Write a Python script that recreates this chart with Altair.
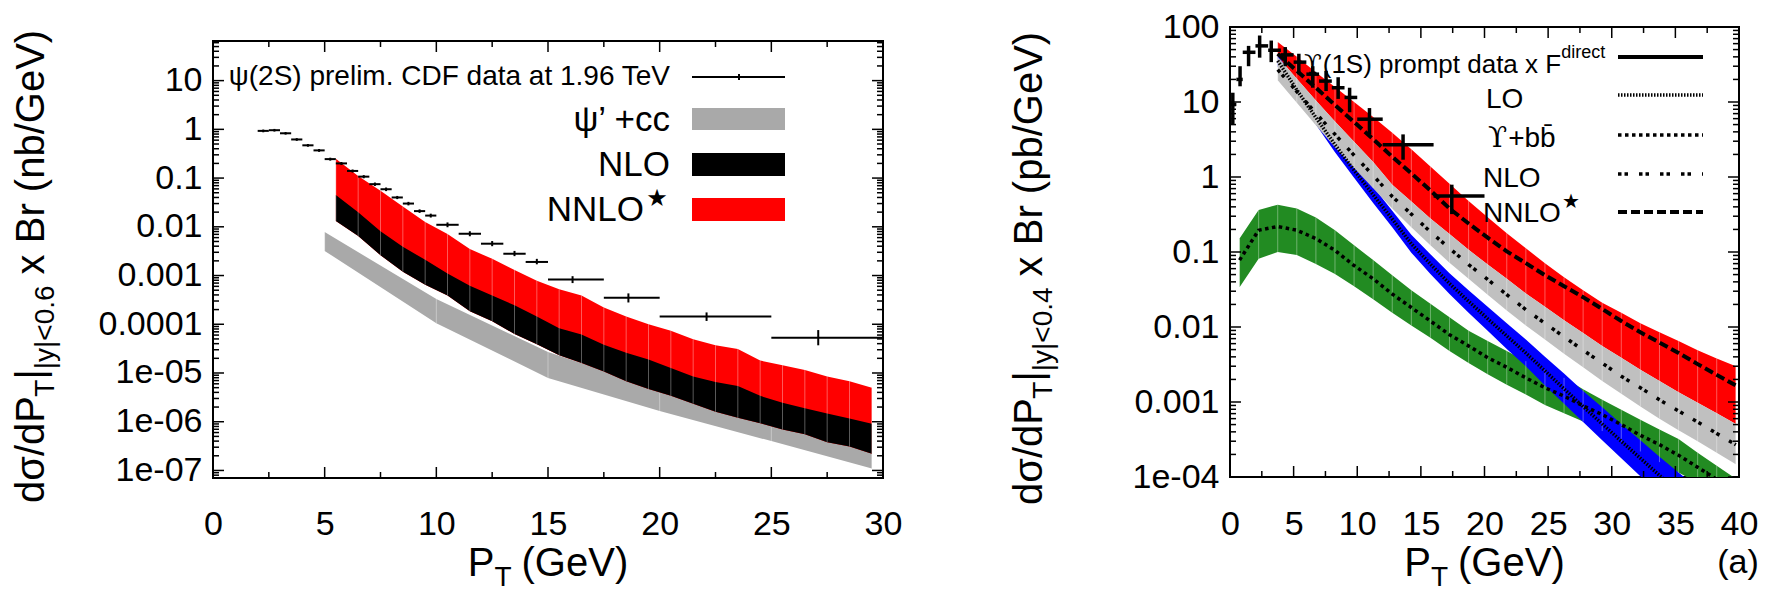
import math
import altair as alt
import pandas as pd

FONT = "Liberation Sans, Arial, Helvetica, DejaVu Sans, sans-serif"
SERIF = "DejaVu Serif, Liberation Serif, serif"

# ---------------- left panel: psi(2S), |y| < 0.6, Tevatron ----------------
cdf_pt = [2.25, 2.75, 3.25, 3.75, 4.25, 4.75, 5.25, 5.75, 6.25, 6.75, 7.25, 7.75,
          8.25, 8.75, 9.25, 9.75, 10.5, 11.5, 12.5, 13.5, 14.5, 16.1, 18.6, 22.1, 27.1]
cdf_xlo = [2.0, 2.5, 3.0, 3.5, 4.0, 4.5, 5.0, 5.5, 6.0, 6.5, 7.0, 7.5,
           8.0, 8.5, 9.0, 9.5, 10, 11, 12, 13, 14, 15, 17.5, 20, 25]
cdf_xhi = [2.5, 3.0, 3.5, 4.0, 4.5, 5.0, 5.5, 6.0, 6.5, 7.0, 7.5, 8.0,
           8.5, 9.0, 9.5, 10, 11, 12, 13, 14, 15, 17.5, 20, 25, 30]
cdf_val = [0.93, 0.96, 0.83, 0.62, 0.47, 0.37, 0.245, 0.20, 0.14, 0.107, 0.075, 0.059,
           0.040, 0.030, 0.021, 0.017, 0.011, 0.0072, 0.0045, 0.0028, 0.0019, 8.3e-4,
           3.5e-4, 1.44e-4, 5.3e-5]
cdf_lo = [0.87, 0.90, 0.78, 0.58, 0.44, 0.345, 0.228, 0.186, 0.130, 0.099, 0.069, 0.054,
          0.037, 0.0275, 0.0193, 0.0155, 0.0098, 0.0064, 0.0040, 0.0025, 0.0017, 7.0e-4,
          2.8e-4, 1.17e-4, 3.7e-5]
cdf_hi = [0.99, 1.02, 0.88, 0.66, 0.50, 0.395, 0.262, 0.214, 0.150, 0.115, 0.081, 0.064,
          0.043, 0.0325, 0.0228, 0.0186, 0.0123, 0.0081, 0.0051, 0.0032, 0.0022, 9.7e-4,
          4.3e-4, 1.75e-4, 7.6e-5]

psi_pt = [5.5, 6.5, 7.5, 8.5, 9.5, 10.5, 11.5, 12.5, 13.5, 14.5, 15.5, 16.5, 17.5,
          18.5, 19.5, 20.5, 21.5, 22.5, 23.5, 24.5, 25.5, 26.5, 27.5, 28.5, 29.5]
psi_nnlo_hi = [0.25, 0.11, 0.055, 0.026, 0.0126, 0.0071, 0.0035, 0.0022, 0.0013, 7.8e-4,
               5.2e-4, 3.9e-4, 2.2e-4, 1.45e-4, 1.0e-4, 7.4e-5, 4.9e-5, 3.7e-5, 3.1e-5,
               1.8e-5, 1.45e-5, 1.15e-5, 8.5e-6, 6.8e-6, 5.0e-6]
psi_nlo_hi = [0.045, 0.020, 0.0081, 0.0039, 0.0021, 1.1e-3, 6.2e-4, 3.9e-4, 2.45e-4,
              1.45e-4, 8.3e-5, 6.2e-5, 3.8e-5, 2.6e-5, 1.9e-5, 1.26e-5, 8.5e-6, 6.5e-6,
              5.4e-6, 3.4e-6, 2.45e-6, 1.9e-6, 1.48e-6, 1.17e-6, 9.1e-7]
psi_nlo_lo = [0.0132, 0.0065, 0.0026, 0.0012, 6.5e-4, 3.9e-4, 1.86e-4, 1.15e-4, 6.3e-5,
              3.9e-5, 2.3e-5, 1.6e-5, 1.07e-5, 6.8e-6, 4.7e-6, 3.4e-6, 2.35e-6, 1.6e-6,
              1.2e-6, 9.3e-7, 6.9e-7, 5.5e-7, 3.8e-7, 3.1e-7, 2.2e-7]

cc_pt = [5, 10, 15, 20, 25, 29.5]
cc_hi = [7.8e-3, 3.3e-4, 2.7e-5, 4.7e-6, 9.3e-7, 2.4e-7]
cc_lo = [3.2e-3, 1.05e-4, 7.9e-6, 1.66e-6, 4.0e-7, 1.1e-7]

# ---------------- right panel: Upsilon(1S), |y| < 0.4 ----------------
ups_pt = [0.22, 0.79, 1.46, 2.33, 3.24, 4.34, 5.41, 6.5, 7.55, 8.5, 9.4, 10.96, 13.6, 17.43]
ups_xlo = [0, 0.5, 1, 2, 3, 4, 5, 6, 7, 8, 9, 10, 12, 16]
ups_xhi = [0.5, 1, 2, 3, 4, 5, 6, 7, 8, 9, 10, 12, 16, 20]
ups_val = [9.3, 20, 46, 56, 49, 42.5, 34, 23.5, 19, 15.5, 11.5, 5.9, 2.7, 0.56]
ups_lo = [5.0, 16.2, 30, 39, 34, 30, 23.4, 15.5, 14, 11, 7.3, 3.7, 1.7, 0.32]
ups_hi = [13.3, 30, 56, 77, 66, 54, 44, 30, 26, 21.4, 15.5, 8.3, 3.7, 0.79]

th_pt = [3.75, 5.25, 6.75, 8.25, 9.75, 11.25, 12.75, 14.25, 15.75, 17.25, 18.75, 20.25,
         21.75, 23.25, 24.75, 26.25, 27.75, 29.25, 30.75, 32.25, 33.75, 35.25, 36.75,
         38.25, 39.75]
nnlo_hi = [63, 40, 25, 15.8, 10, 6.3, 3.9, 2.35, 1.38, 0.81, 0.48, 0.29, 0.178, 0.112,
           0.071, 0.046, 0.031, 0.021, 0.0155, 0.0112, 0.0085, 0.0065, 0.0049, 0.0038, 0.0030]
nnlo_mid = [44, 26, 15.5, 9.1, 5.4, 3.2, 1.86, 1.12, 0.66, 0.38, 0.24, 0.155, 0.102,
            0.071, 0.049, 0.035, 0.025, 0.0174, 0.012, 0.0085, 0.0062, 0.0045, 0.0032,
            0.0023, 0.00166]
nlo_hi = [40, 20.4, 10.5, 5.5, 2.95, 1.58, 0.79, 0.47, 0.28, 0.174, 0.107, 0.068, 0.044,
          0.028, 0.0186, 0.0123, 0.0083, 0.0056, 0.0039, 0.0027, 0.0019, 0.00135, 0.00098,
          0.00071, 0.00051]
nlo_mid = [27, 13.8, 7.1, 3.7, 1.95, 1.05, 0.55, 0.32, 0.186, 0.112, 0.068, 0.043, 0.027,
           0.017, 0.0112, 0.0074, 0.0049, 0.0033, 0.0022, 0.00155, 0.00107, 0.00076,
           0.00054, 0.00038, 0.00027]
nlo_lo = [19.5, 9.8, 4.9, 2.5, 1.32, 0.71, 0.38, 0.214, 0.123, 0.072, 0.044, 0.027, 0.0166,
          0.0105, 0.0068, 0.0044, 0.0029, 0.0019, 0.00129, 0.00087, 0.0006, 0.00042, 0.0003,
          0.00021, 0.000148]
lo_hi = [42.7, 17.8, 7.6, 3.4, 1.55, 0.74, 0.355, 0.17, 0.093, 0.052, 0.031, 0.0186, 0.0112,
         0.0068, 0.004, 0.0024, 0.0014, 0.00085, 0.00051, 0.00031, 0.000186, 0.000115,
         7.1e-5, 4.4e-5, 2.7e-5]
lo_mid = [35.5, 14.5, 6.2, 2.7, 1.23, 0.58, 0.275, 0.129, 0.069, 0.038, 0.022, 0.0129,
          0.0076, 0.0045, 0.0026, 0.0015, 0.00087, 0.00051, 0.0003, 0.000178, 0.000105,
          6.3e-5, 3.8e-5, 2.3e-5, 1.4e-5]
lo_lo = [29.5, 11.7, 5.0, 2.14, 0.98, 0.45, 0.214, 0.098, 0.051, 0.0275, 0.0155, 0.0089,
         0.0051, 0.003, 0.00166, 0.00095, 0.00054, 0.00031, 0.000178, 0.000102, 5.9e-5,
         3.5e-5, 2.0e-5, 1.2e-5, 7.1e-6]

bb_pt = [0.75, 2.25] + th_pt
bb_hi = [0.151, 0.363, 0.427, 0.38, 0.288, 0.195, 0.123, 0.078, 0.049, 0.031, 0.0204,
         0.0135, 0.0089, 0.0065, 0.0048, 0.0035, 0.0027, 0.0021, 0.00148, 0.00107, 0.00079,
         0.00058, 0.00043, 0.00032, 0.00021, 0.000141, 9.5e-5]
bb_mid = [0.078, 0.195, 0.219, 0.195, 0.151, 0.105, 0.066, 0.044, 0.0275, 0.0182, 0.012,
          0.0079, 0.0056, 0.0039, 0.0029, 0.0021, 0.00155, 0.0012, 0.00089, 0.00068, 0.0005,
          0.00036, 0.00027, 0.000195, 0.000135, 9.3e-5, 6.5e-5]
bb_lo = [0.034, 0.081, 0.1, 0.091, 0.069, 0.051, 0.035, 0.0234, 0.0155, 0.0105, 0.0072,
         0.0048, 0.0033, 0.00234, 0.0017, 0.00126, 0.00091, 0.00071, 0.00055, 0.00041,
         0.000295, 0.000219, 0.000158, 0.000115, 8.3e-5, 6.0e-5, 4.4e-5]

# axis ranges and tick labels
left_x_range = [0, 30]
left_y_range = [7e-8, 65]
left_x_ticks = [0, 5, 10, 15, 20, 25, 30]
left_y_ticks = [1e-7, 1e-6, 1e-5, 1e-4, 1e-3, 1e-2, 0.1, 1, 10]
left_y_text = ["1e-07", "1e-06", "1e-05", "0.0001", "0.001", "0.01", "0.1", "1", "10"]
right_x_range = [0, 40]
right_y_range = [1e-4, 100]
right_x_ticks = [0, 5, 10, 15, 20, 25, 30, 35, 40]
right_y_ticks = [1e-4, 1e-3, 1e-2, 0.1, 1, 10, 100]
right_y_text = ["1e-04", "0.001", "0.01", "0.1", "1", "10", "100"]

# ---------------- helpers ----------------
one = pd.DataFrame({"k": [0]})
ARIAL = {"d": .556, "σ": .6, "/": .278, "P": .667, "T": .611, "|": .26, "y": .5, "<": .584,
         "0": .556, ".": .278, "6": .556, "4": .556, " ": .278, "x": .5,
         "B": .667, "r": .333, "(": .333, "n": .556, "b": .556, "p": .556, "G": .778,
         "e": .556, "V": .667, ")": .333, "1": .556, "S": .667, "o": .556,
         "m": .833, "t": .278, "a": .556, "F": .611, "N": .722, "L": .556, "O": .778}


def tw(s, size):
    return size * sum(ARIAL.get(c, 0.556) for c in s)


def text(t, x, y, size, align="left", baseline="middle", angle=0, font=FONT):
    return alt.Chart(one).mark_text(
        text=t, align=align, baseline=baseline, angle=angle, fontSize=size,
        font=font, color="black").encode(x=alt.value(x), y=alt.value(y))


def x_title(cx, base):
    big, small = 40, 28
    w = tw("P", big) + tw("T", small) + 10 + tw("(GeV)", big)
    x0 = cx - w / 2
    x1 = x0 + tw("P", big)
    x2 = x1 + tw("T", small) + 10
    return [text("P", x0, base, big, baseline="alphabetic"),
            text("T", x1, base + 10, small, baseline="alphabetic"),
            text("(GeV)", x2, base, big, baseline="alphabetic")]


def y_title(parts, x0, y0):
    out, y = [], y0
    for t, size, dx, gap in parts:
        y -= gap
        out.append(text(t, x0 + dx, y, size, baseline="alphabetic", angle=270))
        y -= tw(t, size)
    return out


def rule_px(x1, x2, y, width=2, dash=None, color="black"):
    kw = dict(color=color, strokeWidth=width)
    if dash:
        kw["strokeDash"] = dash
    return alt.Chart(one).mark_rule(**kw).encode(x=alt.value(x1), x2=alt.value(x2), y=alt.value(y))


def vrule_px(x, y1, y2, width=2):
    return alt.Chart(one).mark_rule(color="black", strokeWidth=width).encode(
        x=alt.value(x), y=alt.value(y1), y2=alt.value(y2))


def rect_px(x1, x2, y1, y2, color):
    return alt.Chart(one).mark_rect(color=color).encode(
        x=alt.value(x1), x2=alt.value(x2), y=alt.value(y1), y2=alt.value(y2))


def label_expr(vals, texts):
    s = ""
    for v, t in zip(vals, texts):
        s += f"round(log(datum.value)/LN10) == {round(math.log10(v))} ? '{t}' : "
    return s + "''"


def minor_log(lo, hi):
    out = []
    for k in range(int(math.floor(math.log10(lo))), int(math.ceil(math.log10(hi))) + 1):
        for m in range(2, 10):
            v = m * 10.0 ** k
            if lo <= v <= hi:
                out.append(v)
    return out


def panel(w, h, top, xdom, ydom, xticks, yticks, ytext, xpad, layers_fn):
    """A framed log-y panel. The frame spans y = top .. h inside the view."""
    frame_h = h - top
    per_dec = frame_h / (math.log10(ydom[1]) - math.log10(ydom[0]))
    view_top = 10 ** (math.log10(ydom[1]) + top / per_dec)
    xs = alt.Scale(domain=xdom, nice=False, zero=False)
    ys = alt.Scale(type="log", domain=[ydom[0], view_top], nice=False)
    xax = alt.Axis(values=xticks, title=None, ticks=False, domain=False, grid=False,
                   labelFont=FONT, labelFontSize=34, labelColor="black", labelPadding=xpad,
                   labelFlush=False, labelOverlap=False, format="d")
    yax = alt.Axis(values=yticks, title=None, ticks=False, domain=False, grid=False,
                   labelFont=FONT, labelFontSize=34, labelColor="black", labelPadding=11,
                   labelFlush=False, labelOverlap=False, labelBound=False,
                   labelExpr=label_expr(yticks, ytext))

    def X(f):
        return alt.X(f"{f}:Q", scale=xs, axis=xax)

    def Y(f):
        return alt.Y(f"{f}:Q", scale=ys, axis=yax)

    layers = layers_fn(X, Y)

    # inward ticks on all four sides
    x_minor = [v + (xticks[1] - xticks[0]) / 2 for v in xticks[:-1]]
    y_minor = minor_log(ydom[0], ydom[1])
    for vals, ln in ((xticks, 11), (x_minor, 6)):
        base = alt.Chart(pd.DataFrame({"v": vals})).mark_rule(color="black", strokeWidth=1.5)
        layers.append(base.encode(x=X("v"), y=alt.value(h - ln), y2=alt.value(h)))
        layers.append(base.encode(x=X("v"), y=alt.value(top), y2=alt.value(top + ln)))
    for vals, ln in ((yticks, 11), (y_minor, 6)):
        base = alt.Chart(pd.DataFrame({"v": vals})).mark_rule(color="black", strokeWidth=1.5)
        layers.append(base.encode(y=Y("v"), x=alt.value(0), x2=alt.value(ln)))
        layers.append(base.encode(y=Y("v"), x=alt.value(w - ln), x2=alt.value(w)))
    if top > 0:
        # the frame is drawn here because it starts below the top of the view
        layers += [rule_px(-1, w + 1, top), rule_px(-1, w + 1, h),
                   vrule_px(0, top, h), vrule_px(w, top, h)]
    return layers


def band(X, Y, df, lo, hi, color):
    return alt.Chart(df).mark_area(color=color, opacity=1, clip=True).encode(
        x=X("pt"), y=Y(lo), y2=alt.Y2(hi))


def seams(X, Y, df, lo, hi):
    return alt.Chart(df).mark_rule(color="white", opacity=0.35, strokeWidth=1, clip=True).encode(
        x=X("pt"), y=Y(lo), y2=alt.Y2(hi))


def crosses(X, Y, df, width):
    xbar = alt.Chart(df).mark_rule(color="black", strokeWidth=width, clip=True).encode(
        x=X("xlo"), x2=alt.X2("xhi"), y=Y("val"))
    ybar = alt.Chart(df).mark_rule(color="black", strokeWidth=width, clip=True).encode(
        x=X("pt"), y=Y("lo"), y2=alt.Y2("hi"))
    return [xbar, ybar]


# ---------------- left panel ----------------
LW, LH, LTOP = 670, 451, 14
cdf = pd.DataFrame({"pt": cdf_pt, "xlo": cdf_xlo, "xhi": cdf_xhi, "val": cdf_val,
                    "lo": cdf_lo, "hi": cdf_hi})
psi = pd.DataFrame({"pt": psi_pt, "nnlo_hi": psi_nnlo_hi, "nlo_hi": psi_nlo_hi,
                    "nlo_lo": psi_nlo_lo})
cc = pd.DataFrame({"pt": cc_pt, "hi": cc_hi, "lo": cc_lo})


def left_layers(X, Y):
    ls = [
        band(X, Y, cc, "lo", "hi", "#a9a9a9"),
        seams(X, Y, cc, "lo", "hi"),
        band(X, Y, psi, "nlo_lo", "nnlo_hi", "#ff0000"),
        band(X, Y, psi, "nlo_lo", "nlo_hi", "#000000"),
        seams(X, Y, psi, "nlo_lo", "nnlo_hi"),
    ]
    ls += crosses(X, Y, cdf, 2)
    return ls


left = panel(LW, LH, LTOP, left_x_range, left_y_range, left_x_ticks, left_y_ticks,
             left_y_text, 29, left_layers)
left += [
    text("ψ(2S) prelim. CDF data at 1.96 TeV", 457, 50, 28, align="right"),
    rule_px(479, 572, 50, width=2),
    vrule_px(526, 47, 53, width=2),
    text("ψ\u2019 +cc", 457, 93, 35, align="right"),
    rect_px(479, 572, 81, 103, "#a9a9a9"),
    text("NLO", 457, 138, 35, align="right"),
    rect_px(479, 572, 126, 149, "#000000"),
    text("NNLO", 431, 183, 35, align="right"),
    text("★", 444, 172, 24, align="center"),
    rect_px(479, 572, 171, 194, "#ff0000"),
]
left += x_title(LW / 2, 549)
left += y_title([("dσ/dP", 40, 0, 0), ("T", 28, 10, 0), ("|", 40, 0, 0), ("|y|<0.6", 28, 10, 0),
                 ("x Br (nb/GeV)", 40, 0, 11)], -169, 476)
left.append(rule_px(-211, -200, -25, width=1, color="white"))
left_chart = alt.layer(*left).properties(
    width=LW, height=LH, view=alt.ViewBackground(stroke="transparent"))

# ---------------- right panel ----------------
RW, RH = 509, 450
ups = pd.DataFrame({"pt": ups_pt, "xlo": ups_xlo, "xhi": ups_xhi, "val": ups_val,
                    "lo": ups_lo, "hi": ups_hi})
th = pd.DataFrame({"pt": th_pt, "nnlo_hi": nnlo_hi, "nnlo_mid": nnlo_mid, "nlo_hi": nlo_hi,
                   "nlo_mid": nlo_mid, "nlo_lo": nlo_lo, "lo_hi": lo_hi, "lo_mid": lo_mid,
                   "lo_lo": lo_lo})
bb = pd.DataFrame({"pt": bb_pt, "hi": bb_hi, "mid": bb_mid, "lo": bb_lo})

DASH_LO = [1.5, 1.5]
DASH_BB = [3.5, 3.5]
DASH_NLO = [3.5, 3, 3.5, 11]
DASH_NNLO = [9, 4]


def curve(X, Y, df, field, dash, width=3.5):
    return alt.Chart(df).mark_line(color="black", strokeWidth=width, strokeDash=dash,
                                   clip=True).encode(x=X("pt"), y=Y(field))


def right_layers(X, Y):
    ls = [
        band(X, Y, th, "nlo_hi", "nnlo_hi", "#ff0000"),
        band(X, Y, bb, "lo", "hi", "#228b22"),
        band(X, Y, th, "lo_lo", "lo_hi", "#0000ff"),
        band(X, Y, th, "nlo_lo", "nlo_hi", "#c0c0c0"),
        seams(X, Y, th, "nlo_lo", "nnlo_hi"),
        seams(X, Y, bb, "lo", "hi"),
        curve(X, Y, bb, "mid", DASH_BB),
        curve(X, Y, th, "lo_mid", DASH_LO),
        curve(X, Y, th, "nlo_mid", DASH_NLO),
        curve(X, Y, th, "nnlo_mid", DASH_NNLO, 4),
    ]
    ls += crosses(X, Y, ups, 3.5)
    return ls


right = panel(RW, RH, 0, right_x_range, right_y_range, right_x_ticks, right_y_ticks,
              right_y_text, 30, right_layers)
head = "(1S) prompt data x F"
HX0, HSIZE = 74, 26
hx = HX0 + 0.72 * HSIZE
right += [
    text("ϒ", HX0, 46, HSIZE, baseline="alphabetic", font=SERIF),
    text(head, hx, 46, HSIZE, baseline="alphabetic"),
    text("direct", hx + tw(head, HSIZE), 31, 18, baseline="alphabetic"),
    rule_px(388, 473, 30, width=4),
    text("LO", 256, 73, 28),
    rule_px(388, 473, 68, width=3.5, dash=DASH_LO),
    text("ϒ", 258, 112, 28, font=SERIF),
    text("+bb\u0304", 258 + 0.72 * 28, 112, 28),
    rule_px(388, 473, 108, width=3.5, dash=DASH_BB),
    text("NLO", 253, 152, 28),
    rule_px(388, 473, 147, width=3.5, dash=DASH_NLO),
    text("NNLO", 253, 187, 28),
    text("★", 341, 175, 20, align="center"),
    rule_px(388, 473, 185, width=4, dash=DASH_NNLO),
    text("(a)", 508, 536, 34, align="center"),
]
right += x_title(RW / 2, 549)
right += y_title([("dσ/dP", 40, 0, 0), ("T", 28, 10, 0), ("|", 40, 0, 0), ("|y|<0.4", 28, 10, 0),
                  ("x Br (pb/GeV)", 40, 0, 11)], -188, 478)
right.append(rule_px(0, 10, -25, width=1, color="white"))
right_chart = alt.layer(*right).properties(width=RW, height=RH)

chart = (
    alt.hconcat(left_chart, right_chart, spacing=347, bounds="flush")
    .properties(padding=0, background="white")
    .configure_view(stroke="black", strokeWidth=2)
)

chart.save("out.html", embed_options={"renderer": "svg", "actions": False})
